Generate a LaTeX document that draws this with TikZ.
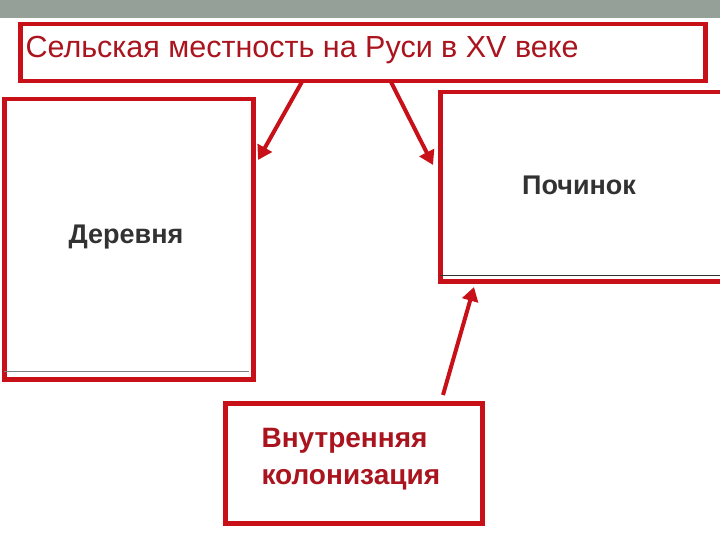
\documentclass[tikz,border=0pt]{standalone}
\usepackage{fontspec}
\setmainfont{Liberation Sans}
\usetikzlibrary{arrows.meta}
\definecolor{bred}{RGB}{200,16,24}
\definecolor{tred}{RGB}{170,20,30}
\definecolor{strip}{RGB}{148,160,152}
\definecolor{txt}{RGB}{50,50,50}
\tikzset{box/.style={draw=bred,line width=4.5pt,fill=white,inner sep=0pt},
 arr/.style={draw=bred,line width=4pt,-{Triangle[length=14pt,width=16pt]}}}
\begin{document}
\begin{tikzpicture}[x=1pt,y=-1pt]
\useasboundingbox (0,0) rectangle (720,540);
\fill[strip] (0,0) rectangle (720,18);
\node[box,minimum width=685pt,minimum height=57pt,anchor=north west] (title) at (18,22) {};
\node[anchor=west,text=tred,font=\fontsize{30.5}{34}\selectfont] (tt) at (22,50) {Сельская местность на Руси в XV веке};
\node[box,minimum width=249pt,minimum height=280pt,anchor=north west] (left) at (2,97) {};
\draw[gray,line width=1pt] (4,371) -- (249,371);
\node[font=\bfseries\fontsize{27}{30}\selectfont,text=txt] (lt) at (126,237) {Деревня};
\node[box,minimum width=285pt,minimum height=189pt,anchor=north west] (right) at (438,90) {};
\draw[txt,line width=0.8pt] (440,275) -- (720,275);
\node[font=\bfseries\fontsize{27}{30}\selectfont,text=txt] (rt) at (579,185) {Починок};
\node[box,minimum width=257pt,minimum height=120pt,anchor=north west] (bot) at (223,401) {};
\node[anchor=north west,align=left,text=tred,font=\bfseries\fontsize{28}{37}\selectfont] (bt) at (258,425) {Внутренняя\\колонизация};
\coordinate (a1) at (303,80); \coordinate (a1e) at (258,160);
\coordinate (a2) at (390,80); \coordinate (a2e) at (433,165);
\coordinate (a3) at (443,395); \coordinate (a3e) at (474,287);
\draw[arr] (a1) -- (a1e);
\draw[arr] (a2) -- (a2e);
\draw[arr] (a3) -- (a3e);
\end{tikzpicture}
\end{document}
